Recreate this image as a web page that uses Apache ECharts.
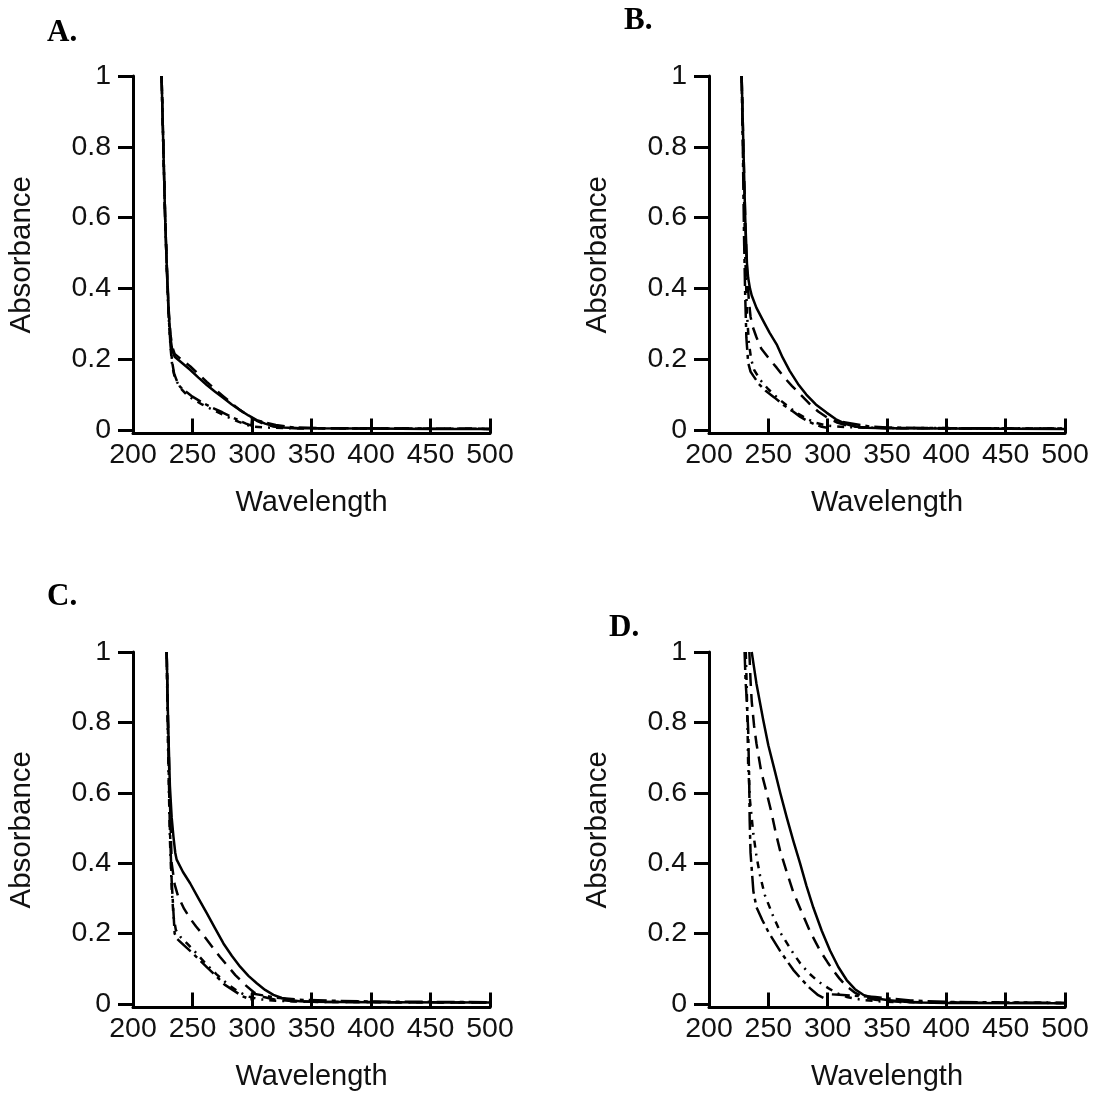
<!DOCTYPE html>
<html><head><meta charset="utf-8">
<script src="https://cdn.jsdelivr.net/npm/echarts@6/dist/echarts.min.js"></script>
<style>html,body{margin:0;padding:0;background:#fff}#c{width:1097px;height:1097px}</style>
</head><body><div id="c"></div><script>
// ---- data: [wavelength, absorbance] ----
const xTicks = [200, 250, 300, 350, 400, 450, 500];
const yTicks = [0, 0.2, 0.4, 0.6, 0.8, 1];
const panelLabels = ['A.', 'B.', 'C.', 'D.'];

const A_solid = [[224,1],[225.5,0.8],[227,0.6],[228.5,0.45],[230,0.33],[231.5,0.26],[233,0.225],[235,0.207],[241,0.19],[248,0.17],[255,0.148],[262,0.127],[269,0.108],[276,0.09],[283,0.072],[290,0.056],[297,0.041],[304,0.028],[311,0.018],[318,0.011],[326,0.007],[340,0.005],[400,0.004],[450,0.003],[500,0.003]];
const A_longdash = [[224,1],[225.5,0.8],[227,0.6],[228.5,0.46],[230,0.34],[231.5,0.27],[233,0.235],[235,0.215],[241,0.198],[248,0.18],[255,0.158],[262,0.136],[269,0.115],[276,0.095],[283,0.075],[290,0.056],[297,0.04],[304,0.026],[311,0.016],[318,0.01],[326,0.006],[340,0.005],[500,0.003]];
const A_dash = [[224,1],[225.5,0.8],[227,0.6],[228.5,0.45],[230,0.32],[231.5,0.24],[233,0.19],[234.5,0.16],[236.7,0.14],[239.5,0.122],[245,0.107],[250,0.094],[258,0.078],[267,0.062],[275,0.05],[282,0.038],[289,0.027],[295,0.018],[299.5,0.012],[300,0.03],[310,0.022],[320,0.014],[335,0.007],[360,0.005],[500,0.003]];
const A_dashdot = [[224,1],[225.5,0.8],[227,0.6],[228.5,0.45],[230,0.32],[231.5,0.235],[233,0.18],[235,0.15],[237,0.135],[240,0.118],[245,0.1],[250,0.088],[258,0.072],[267,0.057],[275,0.044],[282,0.033],[289,0.023],[295,0.015],[300,0.01],[310,0.007],[330,0.005],[500,0.003]];

const B_solid = [[227.5,1],[229,0.8],[230.5,0.6],[232,0.47],[233,0.43],[234.5,0.4],[236,0.38],[240,0.345],[245.7,0.308],[251,0.275],[257,0.242],[262,0.205],[268,0.167],[275,0.13],[282,0.1],[290,0.072],[299,0.049],[307,0.03],[316,0.016],[324,0.009],[333,0.006],[350,0.005],[400,0.004],[500,0.003]];
const B_longdash = [[227.5,1],[229,0.8],[230.5,0.6],[232,0.45],[233.5,0.37],[235,0.32],[237,0.29],[240,0.262],[244,0.23],[250,0.204],[257,0.176],[263,0.15],[270,0.124],[278,0.097],[285,0.073],[292,0.052],[300,0.034],[308,0.021],[316,0.013],[330,0.007],[350,0.005],[500,0.003]];
const B_dash = [[227.5,1],[228.5,0.8],[229.5,0.55],[230.5,0.38],[231.5,0.26],[233,0.19],[235,0.165],[237.5,0.152],[242,0.13],[248,0.11],[255,0.092],[263,0.07],[270,0.054],[277,0.037],[283,0.025],[289,0.016],[295,0.009],[299.5,0.006],[300,0.028],[310,0.024],[320,0.018],[335,0.01],[350,0.007],[400,0.005],[500,0.004]];
const B_dashdot = [[227.5,1],[229,0.75],[230.5,0.5],[232,0.33],[233.5,0.25],[235.5,0.2],[238,0.17],[243,0.142],[250,0.115],[258,0.09],[266,0.068],[274,0.048],[282,0.032],[290,0.02],[300,0.012],[315,0.008],[340,0.006],[500,0.004]];

const C_solid = [[228.3,1],[229.5,0.8],[231,0.62],[232.5,0.53],[234,0.475],[235.5,0.43],[236.7,0.41],[242,0.375],[248,0.343],[255,0.3],[262,0.258],[269,0.215],[276,0.172],[283,0.137],[290,0.106],[297,0.08],[304,0.059],[311,0.04],[318,0.026],[325,0.017],[332,0.011],[340,0.008],[350,0.0066],[400,0.005],[500,0.004]];
const C_longdash = [[228.3,1],[229.5,0.8],[231,0.58],[232.5,0.4],[235,0.34],[238,0.305],[243,0.27],[248,0.243],[253,0.22],[259,0.196],[266,0.165],[273,0.134],[280,0.106],[286,0.082],[294,0.055],[302,0.032],[310,0.02],[320,0.012],[335,0.008],[360,0.006],[500,0.004]];
const C_dash = [[228.3,1],[229.5,0.75],[231,0.5],[232.5,0.35],[234,0.26],[235,0.2],[237,0.185],[239.5,0.177],[245,0.16],[250,0.145],[255,0.128],[262,0.105],[269,0.082],[277,0.055],[286,0.035],[292,0.022],[299.5,0.012],[300,0.03],[310,0.024],[320,0.018],[340,0.012],[370,0.009],[400,0.007],[500,0.005]];
const C_dashdot = [[228.3,1],[229.5,0.72],[231,0.47],[232.5,0.33],[234,0.25],[236,0.21],[240,0.19],[246,0.17],[253,0.145],[261,0.115],[270,0.085],[279,0.058],[288,0.036],[296,0.022],[305,0.014],[320,0.009],[350,0.006],[500,0.004]];

const D_solid = [[236,1],[240,0.91],[245.7,0.807],[250,0.735],[255.6,0.66],[260,0.6],[265.5,0.53],[271,0.464],[276.7,0.4],[282,0.337],[287.9,0.274],[295,0.208],[302,0.152],[309,0.105],[316,0.068],[323,0.042],[330,0.026],[340,0.016],[350,0.011],[365,0.006],[378,0.004],[400,0.003],[500,0.002]];
const D_longdash = [[234,1],[235,0.92],[236,0.86],[238,0.79],[240,0.74],[242,0.7],[244,0.66],[248.6,0.6],[252.9,0.54],[256,0.49],[259.8,0.437],[265.5,0.375],[271,0.318],[278,0.262],[285,0.207],[293.5,0.152],[300,0.118],[304.7,0.095],[310,0.072],[316,0.05],[323,0.032],[330,0.02],[340,0.012],[360,0.006],[400,0.004],[500,0.003]];
const D_dashdot = [[231,1],[231.8,0.9],[232.5,0.78],[233,0.68],[234.5,0.58],[237.3,0.485],[240,0.42],[243,0.365],[247,0.31],[254,0.25],[261,0.198],[271,0.144],[277,0.115],[284,0.088],[292,0.064],[300.5,0.045],[308,0.03],[316,0.02],[330,0.011],[350,0.006],[400,0.004],[500,0.003]];
const D_dash = [[230,1],[230.8,0.92],[231.7,0.87],[233,0.78],[233.8,0.65],[234.3,0.52],[235,0.43],[237.4,0.32],[240,0.275],[245,0.238],[250,0.205],[260,0.15],[271,0.097],[278,0.07],[285,0.045],[292,0.025],[299.5,0.012],[300,0.028],[310,0.026],[320,0.024],[330,0.022],[340,0.02],[350,0.016],[370,0.01],[400,0.006],[500,0.003]];

const panels = [
  {solid: A_solid, longdash: A_longdash, dash: A_dash, dashdot: A_dashdot},
  {solid: B_solid, longdash: B_longdash, dash: B_dash, dashdot: B_dashdot},
  {solid: C_solid, longdash: C_longdash, dash: C_dash, dashdot: C_dashdot},
  {solid: D_solid, longdash: D_longdash, dash: D_dash, dashdot: D_dashdot}
];

// ---- layout / style ----
const grids = [
  {left: 133, top: 76, width: 357, height: 357.5},
  {left: 709, top: 76, width: 356, height: 357.5},
  {left: 133, top: 652, width: 357, height: 355.5},
  {left: 709, top: 652, width: 356, height: 355.5}
];
const labelPos = [[47, 17], [624, 5], [47, 581], [609, 612]];
const dashTypes = {solid: 'solid', longdash: [13, 8], dash: [18, 5, 4, 5], dashdot: [7, 6, 2, 6]};
const FONT = 'Liberation Sans, Arial, sans-serif';

const option = {
  backgroundColor: '#fff',
  animation: false,
  title: panelLabels.map((t, i) => ({
    text: t, left: labelPos[i][0], top: labelPos[i][1], padding: 0,
    textStyle: {fontFamily: 'Liberation Serif, Times New Roman, serif', fontWeight: 'bold', fontSize: 31, color: '#000'}
  })),
  grid: grids,
  xAxis: grids.map((g, i) => ({
    type: 'value', gridIndex: i, min: 200, max: 500, interval: 50,
    name: 'Wavelength', nameLocation: 'middle', nameGap: 55,
    nameTextStyle: {fontFamily: FONT, fontSize: 29, color: '#111'},
    axisLine: {show: true, onZero: false, lineStyle: {color: '#000', width: 3}},
    axisTick: {show: true, inside: true, length: 15, lineStyle: {color: '#000', width: 3}, customValues: xTicks},
    axisLabel: {fontFamily: FONT, fontSize: 28.5, color: '#111', margin: 7, customValues: xTicks},
    splitLine: {show: false}
  })),
  yAxis: grids.map((g, i) => ({
    type: 'value', gridIndex: i, min: -0.01, max: 1,
    name: 'Absorbance', nameLocation: 'middle', nameGap: 96,
    nameTextStyle: {fontFamily: FONT, fontSize: 29.5, color: '#111'},
    axisLine: {show: true, lineStyle: {color: '#000', width: 3}},
    axisTick: {show: true, inside: false, length: 15, lineStyle: {color: '#000', width: 3}, customValues: yTicks},
    axisLabel: {fontFamily: FONT, fontSize: 28.5, color: '#111', margin: 22, customValues: yTicks,
      formatter: v => String(Math.round(v * 10) / 10)},
    splitLine: {show: false}
  })),
  series: []
};

panels.forEach((p, i) => {
  ['dashdot', 'dash', 'longdash', 'solid'].forEach(k => {
    option.series.push({
      type: 'line', xAxisIndex: i, yAxisIndex: i, data: p[k],
      showSymbol: false, symbol: 'none', smooth: false,
      lineStyle: {color: '#000', width: 2.5, type: dashTypes[k], join: 'round', cap: 'butt'},
      silent: true
    });
  });
});

const chart = echarts.init(document.getElementById('c'));
chart.setOption(option);
</script></body></html>
